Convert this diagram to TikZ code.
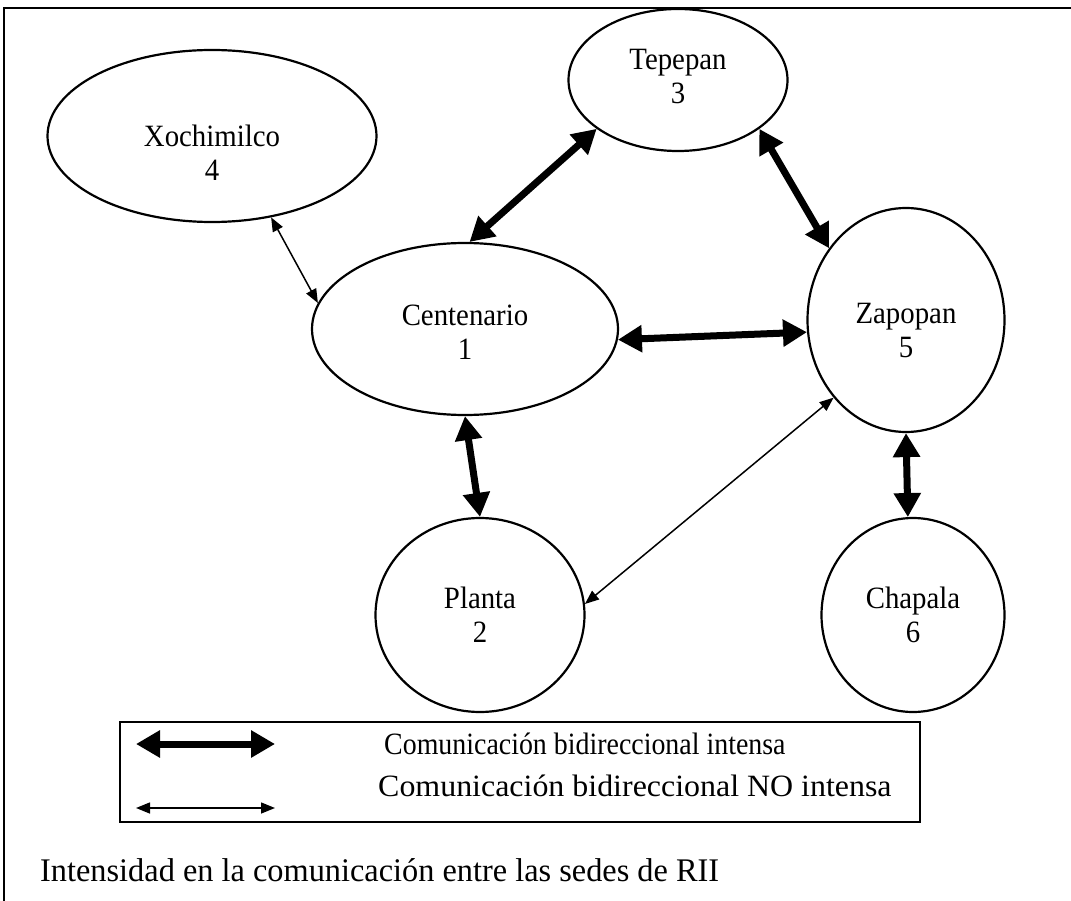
\documentclass[tikz,border=0pt]{standalone}
\usepackage{fontspec}
\setmainfont{Liberation Serif}
\newfontfamily\nodefont{Liberation Serif}[FakeStretch=0.93]
\newfontfamily\legfont{Liberation Serif}[FakeStretch=0.90]
\newfontfamily\legfontb{Liberation Serif}[FakeStretch=1.03]
\newfontfamily\capfont{Liberation Serif}[FakeStretch=0.98]
\usetikzlibrary{shapes.geometric,arrows.meta}
\tikzset{
  ell/.style={ellipse, draw, line width=2.2pt, inner sep=0pt},
  lbl/.style={align=center, inner sep=0pt, font=\nodefont\fontsize{31}{34}\selectfont},
  thick arrow/.style={line width=7pt, {Triangle[length=24pt,width=26pt]}-{Triangle[length=24pt,width=26pt]}},
  thin arrow/.style={line width=1.5pt, {Triangle[length=14pt,width=11pt]}-{Triangle[length=14pt,width=11pt]}},
  legtext/.style={anchor=west, inner sep=0pt},
}
\begin{document}
\begin{tikzpicture}[x=1pt,y=-1pt]
\useasboundingbox (0,0) rectangle (1071,901);
\draw[line width=2pt] (4,901) -- (4,8) -- (1071,8);

% ellipses
\node[ell, minimum width=219pt, minimum height=142pt] (tep) at (678,80) {};
\node[ell, minimum width=329pt, minimum height=172pt] (xoc) at (212,136) {};
\node[ell, minimum width=306pt, minimum height=172pt] (cen) at (465,329) {};
\node[ell, minimum width=197pt, minimum height=224pt] (zap) at (906,320) {};
\node[ell, minimum width=209pt, minimum height=194pt] (pla) at (480,615) {};
\node[ell, minimum width=183pt, minimum height=194pt] (cha) at (913,615) {};

% labels
\node[lbl] (tepT) at (678,77) {Tepepan\\3};
\node[lbl] (xocT) at (212,153) {Xochimilco\\4};
\node[lbl] (cenT) at (465,332) {Centenario\\1};
\node[lbl] (zapT) at (906,331) {Zapopan\\5};
\node[lbl] (plaT) at (480,615) {Planta\\2};
\node[lbl] (chaT) at (913,615) {Chapala\\6};

% connectors
\draw[thick arrow] (cen.87) -- (tep.211);
\draw[thick arrow] (tep.329) -- (zap.137);
\draw[thick arrow] (cen.356) -- (zap.187);
\draw[thick arrow] (cen.270) -- (pla.90);
\draw[thick arrow] (zap.270) -- (cha.93);
\draw[thin arrow] (zap.227) -- (pla.6);
\draw[thin arrow] (xoc.306) -- (cen.170);

% legend
\node[draw, line width=2pt, minimum width=800pt, minimum height=100pt, inner sep=0pt] (legend) at (520,772) {};
\coordinate (l1a) at (136,744);
\coordinate (l1b) at (275,744);
\coordinate (l2a) at (136,808);
\coordinate (l2b) at (275,808);
\draw[thick arrow] (l1a) -- (l1b);
\draw[thin arrow] (l2a) -- (l2b);
\node[legtext, font=\legfont\fontsize{31}{34}\selectfont] (t1) at (384,744) {Comunicación bidireccional intensa};
\node[legtext, font=\legfontb\fontsize{31}{34}\selectfont] (t2) at (378,786) {Comunicación bidireccional NO intensa};

\node[anchor=west, inner sep=0pt, font=\capfont\fontsize{33}{36}\selectfont] (cap) at (40,870) {Intensidad en la comunicación entre las sedes de RII};
\end{tikzpicture}
\end{document}
